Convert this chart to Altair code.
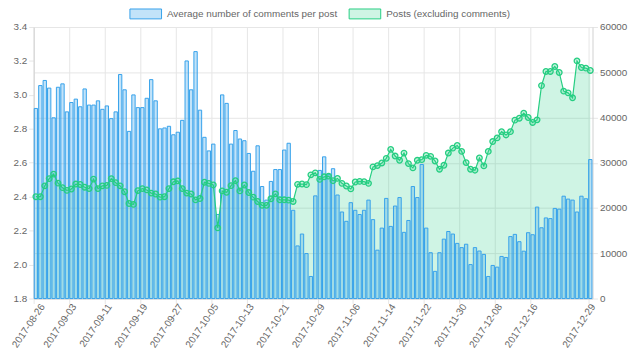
import altair as alt
import pandas as pd

# ---- data -------------------------------------------------------------
dates = pd.date_range("2017-08-26", "2017-12-29").strftime("%Y-%m-%d").tolist()

avg_comments = [
    2.92, 3.055, 3.085, 3.04, 2.865, 3.045, 3.065, 2.90, 2.955, 2.975,
    2.93, 3.035, 2.94, 2.94, 2.965, 2.915, 2.935, 2.86, 2.90, 3.12,
    3.03, 2.785, 3.00, 2.925, 2.925, 2.98, 3.09, 2.965, 2.80, 2.805,
    2.815, 2.765, 2.78, 2.85, 3.20, 3.03, 3.255, 2.91, 2.75, 2.67,
    2.71, 2.295, 3.00, 2.95, 2.71, 2.79, 2.74, 2.73, 2.655, 2.55,
    2.70, 2.46, 2.38, 2.49, 2.56, 2.56, 2.675, 2.715, 2.32, 2.11,
    2.18, 2.065, 1.93, 2.405, 2.555, 2.635, 2.53, 2.565, 2.41, 2.31,
    2.255, 2.365, 2.32, 2.295, 2.32, 2.38, 2.265, 2.085, 2.215, 2.39,
    2.225, 2.345, 2.395, 2.19, 2.26, 2.46, 2.395, 2.59, 2.215, 2.07,
    1.96, 2.07, 2.15, 2.195, 2.18, 2.125, 2.10, 2.12, 2.0, 2.10,
    2.08, 2.06, 1.93, 1.995, 1.985, 2.048, 2.042, 2.165, 2.178, 2.135,
    2.079, 2.188, 2.176, 2.339, 2.217, 2.275, 2.271, 2.331, 2.327, 2.403,
    2.386, 2.38, 2.31, 2.403, 2.388, 2.619,
]

posts = [
    22500, 22500, 24900, 26500, 27500, 25500, 24500, 23900, 24200, 25300,
    25200, 24600, 24300, 26400, 24300, 24900, 25000, 26500, 25600, 24900,
    23600, 21000, 20800, 23850, 24300, 24000, 23300, 23100, 22400, 22500,
    24300, 25800, 26000, 24300, 23300, 23100, 21800, 22100, 25700, 25450,
    25100, 15600, 23780, 23490, 24950, 26040, 23780, 25090, 23420, 22400,
    21450, 20600, 20600, 22040, 23130, 21820, 21820, 21750, 21450, 25240,
    25310, 25170, 27340, 27780, 26330, 26900, 27050, 26040, 26540, 25450,
    24870, 24220, 25750, 25890, 25820, 25450, 29090, 29380, 29960, 30980,
    32950, 31490, 30550, 32145, 29820, 28870, 30550, 30690, 31640, 31420,
    30400, 28580, 29450, 32150, 33240, 33820, 32510, 30040, 28580, 28360,
    31050, 29310, 32510, 34690, 35490, 36870, 36150, 36870, 39420, 39850,
    40950, 40000, 38910, 39490, 47050, 50180, 50180, 51270, 49960, 45820,
    45450, 44360, 52510, 51050, 50910, 50400,
]

tick_dates = [
    "2017-08-26", "2017-09-03", "2017-09-11", "2017-09-19", "2017-09-27",
    "2017-10-05", "2017-10-13", "2017-10-21", "2017-10-29", "2017-11-06",
    "2017-11-14", "2017-11-22", "2017-11-30", "2017-12-08", "2017-12-16",
    "2017-12-29",
]
left_ticks = [1.8, 2.0, 2.2, 2.4, 2.6, 2.8, 3.0, 3.2, 3.4]
right_ticks = [0, 10000, 20000, 30000, 40000, 50000, 60000]

series_names = ["Average number of comments per post", "Posts (excluding comments)"]

df = pd.DataFrame({"date": dates, "avg": avg_comments, "posts": posts})
df_bar = df.assign(series=series_names[0])
df_area = df.assign(series=series_names[1])

# ---- styles -----------------------------------------------------------
BLUE = "#36a2eb"
GREEN = "#26ce82"
FONT = "Liberation Sans"
GRID = "#e6e6e6"

legend_path = "M-1,-0.3125L1,-0.3125L1,0.3125L-1,0.3125Z"
legend = alt.Legend(
    orient="none", legendX=97, legendY=-30, direction="horizontal", title=None,
    symbolType=legend_path, symbolSize=1024, symbolStrokeWidth=1,
    labelFontSize=10, labelColor="#666", labelFont=FONT, labelLimit=400,
    columnPadding=9, labelOffset=5,
)
color_scale = alt.Scale(domain=series_names,
                        range=["rgba(54,162,235,0.3)", "rgba(38,206,130,0.22)"])
stroke_scale = alt.Scale(domain=series_names, range=[BLUE, GREEN])

x_enc = alt.X(
    "date:O",
    scale=alt.Scale(paddingInner=0.25, paddingOuter=0.125),
    axis=alt.Axis(
        values=tick_dates, title=None, labelAngle=-56, labelAlign="right",
        labelBaseline="middle", bandPosition=0,
        labelOffset={"condition": {"test": f"datum.value === '{tick_dates[0]}'", "value": 7},
                     "value": 3},
        tickSize=5, labelPadding=1, grid=True, domainColor="#d0d0d0",
    ),
)

area = alt.Chart(df_area).mark_area(opacity=1, line=False).encode(
    x=x_enc,
    y=alt.Y("posts:Q", scale=alt.Scale(domain=[0, 60000], nice=False),
            axis=alt.Axis(orient="right", values=right_ticks, format="d", title=None,
                          tickSize=5, labelPadding=2, domainColor="#d0d0d0")),
    color=alt.Color("series:N", scale=color_scale, legend=legend),
)

bars = alt.Chart(df_bar).mark_bar(strokeWidth=1).encode(
    x=x_enc,
    y=alt.Y("avg:Q", scale=alt.Scale(domain=[1.8, 3.4], zero=False, nice=False),
            axis=alt.Axis(orient="left", values=left_ticks, format=".1f", title=None,
                          tickSize=5, labelPadding=2, domainColor="#d0d0d0")),
    y2=alt.datum(1.8),
    color=alt.Color("series:N", scale=color_scale, legend=legend),
    stroke=alt.Stroke("series:N", scale=stroke_scale, legend=legend),
)

y_posts = alt.Y("posts:Q", scale=alt.Scale(domain=[0, 60000], nice=False), axis=None)
line = alt.Chart(df_area).mark_line(color=GREEN, strokeWidth=1.2).encode(x=x_enc, y=y_posts)
pts = alt.Chart(df_area).mark_point(
    shape="circle", filled=True, fill="rgba(38,206,130,0.25)", stroke=GREEN,
    strokeWidth=1.3, size=32, opacity=1,
).encode(x=x_enc, y=y_posts)

chart = alt.layer(area, bars, alt.layer(line, pts)).resolve_scale(
    y="independent"
).properties(
    width=566, height=275,
    autosize=alt.AutoSizeParams(type="none"),
    padding={"left": 26, "top": 17, "right": 40, "bottom": 60},
).configure_view(stroke=None).configure_axis(
    labelFont=FONT, labelFontSize=10, labelColor="#666",
    gridColor=GRID, tickColor=GRID,
)

chart.save("out.html", embed_options={"renderer": "svg", "actions": False})
